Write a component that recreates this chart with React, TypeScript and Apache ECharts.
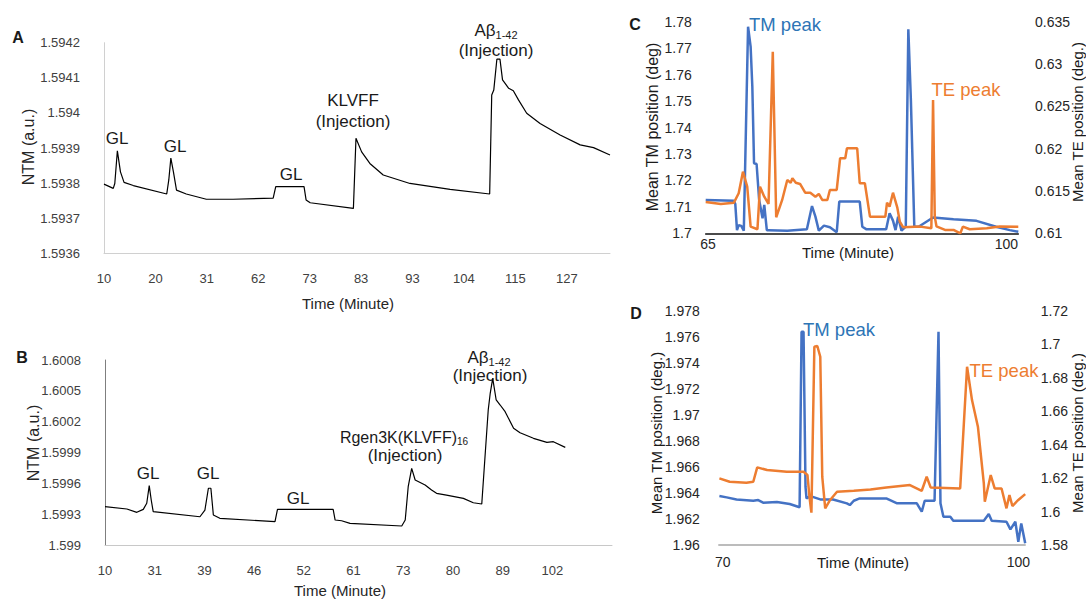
import { useEffect, useRef } from 'react';
import * as echarts from 'echarts';

const FONT = "'Liberation Sans', Arial, sans-serif";

// Panel A
const aTickLabels = ['10', '20', '31', '62', '73', '83', '93', '104', '115', '127'];
const aIndex = [0, 0.18, 0.21, 0.26, 0.32, 0.39, 0.57, 1.22, 1.26, 1.3, 1.35, 1.41, 1.6, 1.99, 2.51, 3.29, 3.34, 3.89, 3.93, 4.01, 4.85, 4.9, 5.01, 5.17, 5.43, 5.95, 6.73, 7.5, 7.54, 7.58, 7.64, 7.7, 7.75, 7.8, 7.87, 7.96, 8.06, 8.22, 8.48, 8.87, 9.26, 9.52, 9.84];
const aNTM = [1.593797, 1.593785, 1.593799, 1.593892, 1.593832, 1.593802, 1.593793, 1.593769, 1.593809, 1.593871, 1.593832, 1.59378, 1.593769, 1.593754, 1.593754, 1.593757, 1.59379, 1.59379, 1.593752, 1.593744, 1.593728, 1.593928, 1.593889, 1.593856, 1.593823, 1.593799, 1.593782, 1.593769, 1.594051, 1.594065, 1.594153, 1.594153, 1.594094, 1.594084, 1.59407, 1.594063, 1.594037, 1.593999, 1.59397, 1.593937, 1.593909, 1.593901, 1.59388];

// Panel B
const bTickLabels = ['10', '31', '39', '46', '52', '61', '73', '80', '89', '102'];
const bIndex = [0, 0.44, 0.64, 0.77, 0.84, 0.89, 0.93, 0.97, 1.91, 2.01, 2.08, 2.13, 2.18, 2.31, 3.42, 3.47, 4.59, 4.63, 4.76, 4.93, 5.97, 6.04, 6.1, 6.17, 6.24, 6.44, 6.57, 6.67, 6.87, 7.21, 7.41, 7.58, 7.65, 7.71, 7.75, 7.8, 7.87, 7.95, 8.05, 8.22, 8.35, 8.62, 8.89, 9.02, 9.26];
const bNTM = [1.599373, 1.59935, 1.599318, 1.599347, 1.599406, 1.599577, 1.599438, 1.599324, 1.599275, 1.59934, 1.599552, 1.599552, 1.599292, 1.59926, 1.599227, 1.599347, 1.599347, 1.599243, 1.599236, 1.599211, 1.599185, 1.599243, 1.599567, 1.599746, 1.599632, 1.599584, 1.599535, 1.599503, 1.599486, 1.599454, 1.599411, 1.599399, 1.599892, 1.600313, 1.600476, 1.600622, 1.600411, 1.600362, 1.600297, 1.600135, 1.600092, 1.600038, 1.599999, 1.600005, 1.59995];

// Panel C
const cTimeTM = [64.73, 68.04, 68.2, 68.4, 68.6, 68.9, 69.2, 69.7, 70.0, 70.2, 70.4, 70.7, 71.0, 71.4, 71.6, 71.9, 72.1, 74.3, 76.6, 77.2, 77.6, 78.0, 78.6, 79.3, 80.1, 80.4, 82.8, 83.1, 83.6, 85.9, 86.3, 86.7, 87.0, 87.3, 87.7, 88.2, 88.5, 88.8, 89.2, 89.7, 91.4, 93.8, 96.5, 98.8, 100.4, 101.4];
const cTM = [1.7126, 1.7123, 1.7111, 1.7012, 1.7031, 1.7028, 1.701, 1.7781, 1.7706, 1.7554, 1.7265, 1.7262, 1.7126, 1.7057, 1.7107, 1.7012, 1.7012, 1.701, 1.7015, 1.7103, 1.7063, 1.701, 1.7029, 1.7023, 1.7004, 1.712, 1.712, 1.7025, 1.7015, 1.7015, 1.7076, 1.7048, 1.7012, 1.7063, 1.701, 1.7025, 1.7771, 1.7504, 1.7025, 1.7025, 1.706, 1.7053, 1.7047, 1.7025, 1.7012, 1.7006];
const cTimeTE = [64.73, 66.5, 68.04, 68.6, 69.1, 69.6, 70.0, 70.8, 71.1, 71.6, 72.1, 72.6, 73.0, 73.7, 74.3, 74.7, 74.9, 75.3, 75.8, 76.4, 77.0, 77.6, 78.0, 78.4, 79.0, 79.3, 80.1, 80.5, 81.1, 81.3, 82.5, 82.8, 83.4, 84.0, 85.8, 86.0, 86.3, 86.7, 87.2, 87.5, 87.9, 89.9, 91.2, 91.4, 91.6, 91.8, 92.8, 93.8, 94.6, 94.9, 95.7, 97.7, 99.2, 101.4];
const cTE = [0.6137, 0.61347, 0.61362, 0.61473, 0.61728, 0.61551, 0.61078, 0.61048, 0.61551, 0.61433, 0.61347, 0.63146, 0.61189, 0.61394, 0.6163, 0.61598, 0.6165, 0.61598, 0.61583, 0.6148, 0.6148, 0.61433, 0.61465, 0.61394, 0.61394, 0.61512, 0.61512, 0.61887, 0.61887, 0.62005, 0.62005, 0.61591, 0.61591, 0.61197, 0.61197, 0.61362, 0.61315, 0.6148, 0.61307, 0.61138, 0.61071, 0.61079, 0.6106, 0.62575, 0.61197, 0.61083, 0.6104, 0.6104, 0.61, 0.61079, 0.61048, 0.6106, 0.61079, 0.61078];

// Panel D
const dTimeTM = [69.66, 70.4, 71.4, 73.1, 73.6, 74.1, 75.5, 76.8, 77.8, 78.0, 78.2, 78.4, 78.5, 78.9, 79.9, 81.2, 82.6, 82.9, 83.3, 83.9, 86.6, 87.7, 89.7, 90.2, 90.5, 91.5, 91.9, 92.1, 92.4, 93.1, 93.4, 96.5, 97.0, 97.3, 98.8, 99.2, 99.7, 100.0, 100.3, 100.7];
const dTM = [1.96376, 1.96366, 1.9635, 1.9634, 1.96345, 1.96325, 1.9633, 1.96315, 1.9629, 1.97639, 1.97639, 1.96448, 1.96358, 1.96376, 1.9635, 1.9635, 1.9632, 1.96307, 1.9634, 1.96358, 1.96358, 1.9632, 1.9632, 1.96256, 1.9634, 1.9634, 1.97639, 1.9632, 1.96217, 1.96217, 1.96187, 1.96187, 1.96238, 1.96187, 1.96179, 1.9612, 1.96179, 1.96025, 1.96166, 1.96013];
const dTimeTE = [69.66, 70.7, 72.4, 73.1, 73.5, 74.5, 76.5, 78.2, 78.6, 78.8, 79.0, 79.3, 79.6, 79.9, 80.1, 80.4, 80.9, 81.6, 83.3, 85.0, 86.6, 89.0, 90.2, 90.7, 91.1, 94.1, 94.8, 95.3, 95.9, 96.5, 96.6, 97.2, 97.6, 98.3, 98.8, 99.1, 99.4, 100.0, 100.7];
const dTE = [1.6198, 1.6178, 1.6172, 1.6178, 1.6264, 1.6248, 1.6238, 1.6238, 1.6218, 1.6089, 1.5993, 1.6985, 1.6989, 1.6925, 1.6208, 1.6019, 1.6069, 1.6118, 1.6124, 1.6132, 1.6144, 1.6158, 1.6124, 1.6208, 1.6144, 1.6138, 1.6865, 1.6666, 1.6507, 1.6168, 1.6059, 1.6218, 1.6138, 1.6138, 1.6019, 1.6098, 1.6033, 1.6069, 1.6104];

const BLUE = '#4472C4';
const ORANGE = '#ED7D31';

const zip = (xs: number[], ys: number[]) => xs.map((x, i) => [x, ys[i]]);
const fmt = (v: number) => String(parseFloat(v.toFixed(4)));

const txt = (text: string, x: number, y: number, fontSize: number, opts: any = {}) => ({
  type: 'text',
  x,
  y,
  rotation: opts.rot || 0,
  style: {
    text,
    fontSize,
    fontFamily: FONT,
    fontWeight: opts.bold ? 'bold' : 'normal',
    fill: opts.color || '#1a1a1a',
    align: 'center',
    verticalAlign: 'middle',
    textAlign: 'center',
    textVerticalAlign: 'middle',
    rich: opts.rich,
  },
});

const subRich = (size: number) => ({
  a: { fontSize: size, fontFamily: FONT, fill: '#1a1a1a', color: '#1a1a1a', lineHeight: size + 3 },
  b: { fontSize: Math.round(size * 0.65), fontFamily: FONT, fill: '#1a1a1a', color: '#1a1a1a', verticalAlign: 'bottom', lineHeight: 6 },
});

export default function App() {
  const ref = useRef<HTMLDivElement>(null);
  useEffect(() => {
    if (!ref.current) return;
    const chart = echarts.init(ref.current, undefined, { renderer: 'svg' });
    const abXAxis = (grid: number, max: number, labels: string[], axisColor: string) => ({
      type: 'value',
      gridIndex: grid,
      min: 0,
      max,
      axisLine: { show: true, lineStyle: { color: axisColor, width: 1 } },
      axisTick: { show: false },
      splitLine: { show: false },
      axisLabel: {
        customValues: labels.map((_, i) => i),
        formatter: (v: number) => labels[Math.round(v)] ?? '',
        margin: 19,
        fontSize: 13,
        fontFamily: FONT,
        color: '#404040',
      },
    });
    const yAx = (grid: number, min: number, max: number, interval: number, margin: number, fontSize: number, extra: any = {}) => ({
      type: 'value',
      gridIndex: grid,
      min,
      max,
      interval,
      axisTick: { show: false },
      splitLine: { show: false },
      axisLabel: { formatter: fmt, margin, fontSize, fontFamily: FONT, color: extra.labelColor || '#262626' },
      axisLine: extra.axisLine || { show: false },
      position: extra.position || 'left',
    });
    const lineSeries = (x: number, y: number, data: number[][], color: string, width: number) => ({
      type: 'line',
      xAxisIndex: x,
      yAxisIndex: y,
      data,
      showSymbol: false,
      symbol: 'none',
      lineStyle: { color, width },
      itemStyle: { color },
      silent: true,
    });
    chart.setOption({
      animation: false,
      backgroundColor: '#ffffff',
      textStyle: { fontFamily: FONT },
      grid: [
        { left: 104, top: 42.7, width: 506, height: 210.6 },
        { left: 105, top: 360, width: 507, height: 185 },
        { left: 705.7, top: 21.7, width: 312.6, height: 211.6 },
        { left: 718.8, top: 310.7, width: 306.4, height: 234.3 },
      ],
      xAxis: [
        abXAxis(0, 9.84, aTickLabels, '#d0d0d0'),
        abXAxis(1, 10.2, bTickLabels, '#c8c8c8'),
        {
          type: 'value', gridIndex: 2, min: 64.73, max: 101.4,
          axisLine: { show: true, lineStyle: { color: '#111', width: 1.5 } },
          axisTick: { show: false }, splitLine: { show: false },
          axisLabel: { customValues: [65, 100], margin: 4, fontSize: 14, fontFamily: FONT, color: '#262626' },
        },
        {
          type: 'value', gridIndex: 3, min: 69.6, max: 100.7,
          axisLine: { show: true, lineStyle: { color: '#a6a6a6', width: 1.5 } },
          axisTick: { show: false }, splitLine: { show: false },
          axisLabel: { customValues: [70, 100], margin: 10, fontSize: 14, fontFamily: FONT, color: '#262626' },
        },
      ],
      yAxis: [
        yAx(0, 1.5936, 1.5942, 0.0001, 24, 13, { labelColor: '#404040', axisLine: { show: true, lineStyle: { color: '#d0d0d0', width: 1 } } }),
        yAx(1, 1.599, 1.6008, 0.0003, 24, 13, { labelColor: '#404040', axisLine: { show: true, lineStyle: { color: '#7f7f7f', width: 1 } } }),
        yAx(2, 1.7, 1.78, 0.01, 14, 14),
        yAx(2, 0.61, 0.635, 0.005, 16.7, 14, { position: 'right' }),
        yAx(3, 1.96, 1.978, 0.002, 19, 14),
        yAx(3, 1.58, 1.72, 0.02, 15.5, 14, { position: 'right' }),
      ],
      series: [
        lineSeries(0, 0, zip(aIndex, aNTM), '#000000', 1.2),
        lineSeries(1, 1, zip(bIndex, bNTM), '#000000', 1.2),
        lineSeries(2, 2, zip(cTimeTM, cTM), BLUE, 2.5),
        lineSeries(2, 3, zip(cTimeTE, cTE), ORANGE, 2.5),
        lineSeries(3, 4, zip(dTimeTM, dTM), BLUE, 2.5),
        lineSeries(3, 5, zip(dTimeTE, dTE), ORANGE, 2.5),
      ],
      graphic: [
        txt('A', 18, 37, 16, { bold: true }),
        txt('B', 22, 357, 16, { bold: true }),
        txt('C', 635, 24, 16, { bold: true }),
        txt('D', 636, 313, 16, { bold: true }),
        // Panel A
        txt('GL', 117, 138, 17),
        txt('GL', 175, 146, 17),
        txt('GL', 291, 174, 17),
        txt('KLVFF', 353, 100, 17),
        txt('(Injection)', 353, 121, 17),
        txt('{a|Aβ}{b|1-42}', 496, 30, 17, { rich: subRich(17) }),
        txt('(Injection)', 496, 50, 17),
        txt('Time (Minute)', 348, 303, 15, { color: '#262626' }),
        txt('NTM (a.u.)', 28, 147, 16, { rot: Math.PI / 2, color: '#262626' }),
        // Panel B
        txt('GL', 148, 473, 17),
        txt('GL', 208, 473, 17),
        txt('GL', 298, 498, 17),
        txt('{a|Rgen3K(KLVFF)}{b|16}', 404, 437, 16, { rich: subRich(16) }),
        txt('(Injection)', 405, 455, 17),
        txt('{a|Aβ}{b|1-42}', 489, 357, 17, { rich: subRich(17) }),
        txt('(Injection)', 490, 375, 17),
        txt('Time (Minute)', 340, 590, 15, { color: '#262626' }),
        txt('NTM (a.u.)', 33, 443, 16, { rot: Math.PI / 2, color: '#262626' }),
        // Panel C
        txt('TM peak', 785, 24, 18.5, { color: '#2E75B6' }),
        txt('TE peak', 966, 89, 18.5, { color: ORANGE }),
        txt('Time (Minute)', 848, 252, 15, { color: '#1a1a1a' }),
        txt('Mean TM position (deg)', 652, 127, 16, { rot: Math.PI / 2 }),
        txt('Mean TE position (deg.)', 1077, 122, 15, { rot: Math.PI / 2 }),
        // Panel D
        txt('TM peak', 839, 329, 18.5, { color: '#2E75B6' }),
        txt('TE peak', 1004, 370, 18.5, { color: ORANGE }),
        txt('Time (Minute)', 863, 562, 15, { color: '#1a1a1a' }),
        txt('Mean TM position (deg.)', 656, 433, 15, { rot: Math.PI / 2 }),
        txt('Mean TE position (deg.)', 1077, 433, 15, { rot: Math.PI / 2 }),
      ],
    });
    return () => chart.dispose();
  }, []);
  return <div ref={ref} style={{ position: 'absolute', left: 0, top: 0, width: 1086, height: 599 }} />;
}
